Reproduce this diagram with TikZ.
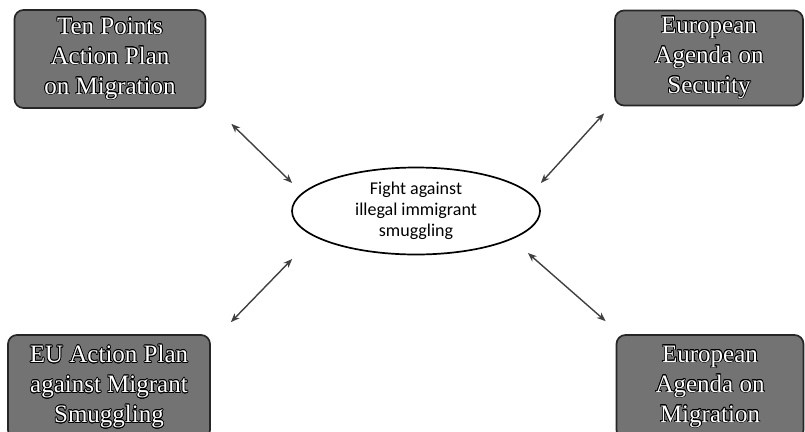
\documentclass[tikz,border=0pt]{standalone}
\usepackage{fontspec}
\setmainfont{Liberation Serif}
\newfontfamily\smallsans{Carlito}
\usepackage{contour}
\contourlength{0.7pt}
\usetikzlibrary{arrows.meta,shapes.geometric}

\tikzset{
  planbox/.style={draw=black!85, line width=1.7pt, rounded corners=9pt, fill=black!55,
    text=white, align=center, inner sep=0pt, font=\fontsize{25}{30}\selectfont},
  fightoval/.style={ellipse, draw=black, line width=1.7pt, align=center, inner sep=0pt,
    minimum width=248pt, minimum height=87pt, font=\smallsans\fontsize{18}{21}\selectfont},
  link/.style={{Stealth[length=9pt,width=7pt]}-{Stealth[length=9pt,width=7pt]}, line width=1.4pt, draw=black!75}
}

\begin{document}
\begin{tikzpicture}[x=1pt,y=-1pt]
                \useasboundingbox (0,0) rectangle (805,431);
                \clip (0,0) rectangle (805,431);

                % centre of the figure
                \node[fightoval] (fight) at (416,211) {Fight against\\illegal immigrant\\smuggling};

                % the four plans
                \node[planbox, minimum width=191pt, minimum height=98pt] (tenpoints) at (110,59)
                  {\contour{black}{Ten Points}\\\contour{black}{Action Plan}\\\contour{black}{on Migration}};
                \node[planbox, minimum width=188pt, minimum height=95pt] (security) at (709,58)
                  {\contour{black}{European}\\\contour{black}{Agenda on}\\\contour{black}{Security}};
                \node[planbox, minimum width=202pt, minimum height=104pt] (smuggling) at (109,387)
                  {\contour{black}{EU Action Plan}\\\contour{black}{against Migrant}\\\contour{black}{Smuggling}};
                \node[planbox, minimum width=187pt, minimum height=104pt] (migration) at (710,387)
                  {\contour{black}{European}\\\contour{black}{Agenda on}\\\contour{black}{Migration}};

                \draw[link] ([shift={(25,15)}]tenpoints.south east) -- ([shift={(1,-28)}]fight.west);
                \draw[link] ([shift={(0,-28)}]fight.east) -- ([shift={(-10,7)}]security.south west);
                \draw[link] ([shift={(20,-12)}]smuggling.north east) -- ([shift={(1,48)}]fight.west);
                \draw[link] ([shift={(-13,42)}]fight.east) -- ([shift={(-10,-13)}]migration.north west);
            \end{tikzpicture}
\end{document}
